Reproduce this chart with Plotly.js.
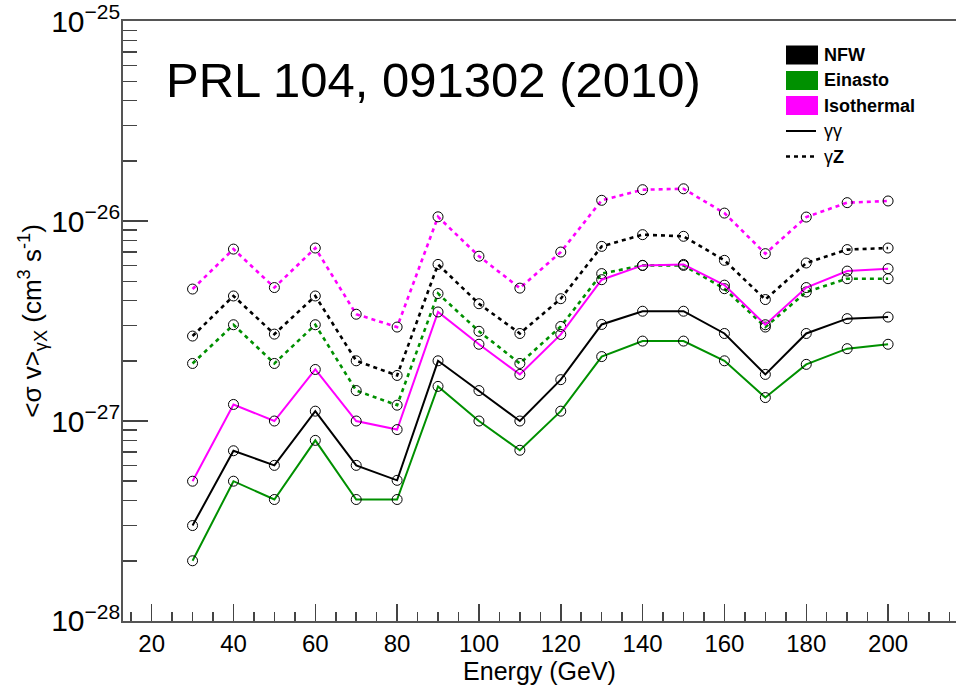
<!DOCTYPE html>
<html>
<head>
<meta charset="utf-8">
<script src="https://cdn.plot.ly/plotly-3.0.1.min.js"></script>
<style>html,body{margin:0;padding:0;background:#fff;}#chart{width:956px;height:689px;}</style>
</head>
<body>
<div id="chart"></div>
<script>
// Energy (GeV)
const energy = [30,40,50,60,70,80,90,100,110,120,130,140,150,160,170,180,190,200];
// gamma-gamma channel
const nfwGG = [3.0e-28,7.1e-28,6.0e-28,1.12e-27,6.0e-28,5.05e-28,2.0e-27,1.42e-27,1.0e-27,1.61e-27,3.04e-27,3.54e-27,3.54e-27,2.74e-27,1.71e-27,2.74e-27,3.25e-27,3.31e-27];
const einGG = [2.0e-28,5.0e-28,4.05e-28,8.0e-28,4.05e-28,4.05e-28,1.49e-27,1.0e-27,7.14e-28,1.12e-27,2.1e-27,2.51e-27,2.51e-27,2.0e-27,1.31e-27,1.92e-27,2.3e-27,2.42e-27];
const isoGG = [5.0e-28,1.21e-27,1.0e-27,1.81e-27,1.0e-27,9.06e-28,3.51e-27,2.42e-27,1.71e-27,2.71e-27,5.09e-27,6.0e-27,6.07e-27,4.78e-27,3.03e-27,4.65e-27,5.62e-27,5.78e-27];
// gamma-Z channel
const nfwGZ = [2.66e-27,4.22e-27,2.72e-27,4.22e-27,2.0e-27,1.69e-27,6.07e-27,3.86e-27,2.74e-27,4.09e-27,7.47e-27,8.55e-27,8.39e-27,6.36e-27,4.05e-27,6.17e-27,7.2e-27,7.33e-27];
const einGZ = [1.94e-27,3.03e-27,1.94e-27,3.03e-27,1.42e-27,1.2e-27,4.34e-27,2.81e-27,1.94e-27,2.97e-27,5.46e-27,6.0e-27,6.0e-27,4.59e-27,2.95e-27,4.42e-27,5.15e-27,5.15e-27];
const isoGZ = [4.57e-27,7.24e-27,4.65e-27,7.33e-27,3.42e-27,2.95e-27,1.05e-26,6.67e-27,4.62e-27,7.0e-27,1.27e-26,1.435e-26,1.45e-26,1.096e-26,6.87e-27,1.047e-26,1.236e-26,1.26e-26];

const profileNames = ["NFW","Einasto","Isothermal"];
const profileColors = ["#000000","#009000","#ff00ff"];
const channelNames = ["γγ","γZ"];

const FONT = "Liberation Sans, Arial, Helvetica, sans-serif";
const marker = {symbol:"circle-open", color:"#000", size:10, line:{width:1, color:"#000"}};

function tr(y, color, dotted) {
  return {x: energy, y: y, type:"scatter", mode:"lines+markers",
    line:{color: color, width: dotted ? 2.6 : 2, dash: dotted ? "4px,4px" : "solid"},
    marker: marker, showlegend:false, hoverinfo:"skip"};
}
const data = [
  tr(isoGZ, profileColors[2], true),
  tr(nfwGZ, profileColors[0], true),
  tr(einGZ, profileColors[1], true),
  tr(isoGG, profileColors[2], false),
  tr(nfwGG, profileColors[0], false),
  tr(einGG, profileColors[1], false)
];

// legend built with shapes/annotations in pixel-like paper coords
const M = {l:123, r:0, t:21, b:68};
const W = 956, H = 689;
const pw = W - M.l - M.r, ph = H - M.t - M.b;
const px = v => (v - M.l) / pw;
const py = v => (H - M.b - v) / ph;

const shapes = [];
const annotations = [];
const legY = [55, 80.5, 105.5, 131, 156.5];
profileNames.forEach((n, i) => {
  shapes.push({type:"rect", xref:"paper", yref:"paper",
    x0:px(786), x1:px(818), y0:py(legY[i]-9.5), y1:py(legY[i]+9.5),
    fillcolor:profileColors[i], line:{width:0}});
  annotations.push({xref:"paper", yref:"paper", x:px(822), y:py(legY[i]), xanchor:"left", yanchor:"middle",
    text:"<b>"+n+"</b>", showarrow:false, font:{family:FONT, size:18, color:"#000"}});
});
shapes.push({type:"line", xref:"paper", yref:"paper", x0:px(786), x1:px(816), y0:py(legY[3]), y1:py(legY[3]),
  line:{color:"#000", width:2}});
shapes.push({type:"line", xref:"paper", yref:"paper", x0:px(786), x1:px(816), y0:py(legY[4]), y1:py(legY[4]),
  line:{color:"#000", width:2.6, dash:"4px,4px"}});
annotations.push({xref:"paper", yref:"paper", x:px(822), y:py(legY[3]), xanchor:"left", yanchor:"middle",
  text:channelNames[0], showarrow:false, font:{family:FONT, size:18, color:"#000"}});
annotations.push({xref:"paper", yref:"paper", x:px(822), y:py(legY[4]), xanchor:"left", yanchor:"middle",
  text:"γ<b>Z</b>", showarrow:false, font:{family:FONT, size:18, color:"#000"}});
annotations.push({xref:"paper", yref:"paper", x:px(433), y:py(80), xanchor:"center", yanchor:"middle",
  text:"PRL 104, 091302 (2010)", showarrow:false, font:{family:FONT, size:49, color:"#000"}});

const layout = {
  width: W, height: H,
  margin: M,
  paper_bgcolor:"#fff", plot_bgcolor:"#fff",
  font:{family:FONT, color:"#000"},
  showlegend:false,
  xaxis:{
    range:[13, 216.6], showgrid:false, zeroline:false,
    showline:true, linecolor:"#555", linewidth:2, mirror:true,
    ticks:"inside", ticklen:17, tickwidth:1.5, tickcolor:"#444",
    tick0:0, dtick:20,
    minor:{ticks:"inside", ticklen:9, tickwidth:1.5, tickcolor:"#444", dtick:5, tick0:0, showgrid:false},
    tickfont:{family:FONT, size:24, color:"#000"},
    title:{text:"Energy (GeV)", font:{family:FONT, size:25, color:"#000"}, standoff:6}
  },
  yaxis:{
    type:"log", range:[-28.0002, -24.9995], showgrid:false, zeroline:false,
    showline:true, linecolor:"#555", linewidth:2,
    ticks:"inside", ticklen:25, tickwidth:1.5, tickcolor:"#444",
    tick0:0, dtick:1, exponentformat:"power",
    ticklabelstandoff:-4,
    minor:{ticks:"inside", ticklen:14, tickwidth:1.5, tickcolor:"#444", dtick:"D1", showgrid:false},
    tickfont:{family:FONT, size:24, color:"#000"},
    title:{text:"&lt;σ v&gt;<sub>γX</sub> (cm<sup>3</sup> s<sup>-1</sup>)", font:{family:FONT, size:26, color:"#000"}, standoff:2}
  },
  shapes: shapes,
  annotations: annotations
};

Plotly.newPlot("chart", data, layout, {staticPlot:true, displayModeBar:false});
</script>
</body>
</html>
